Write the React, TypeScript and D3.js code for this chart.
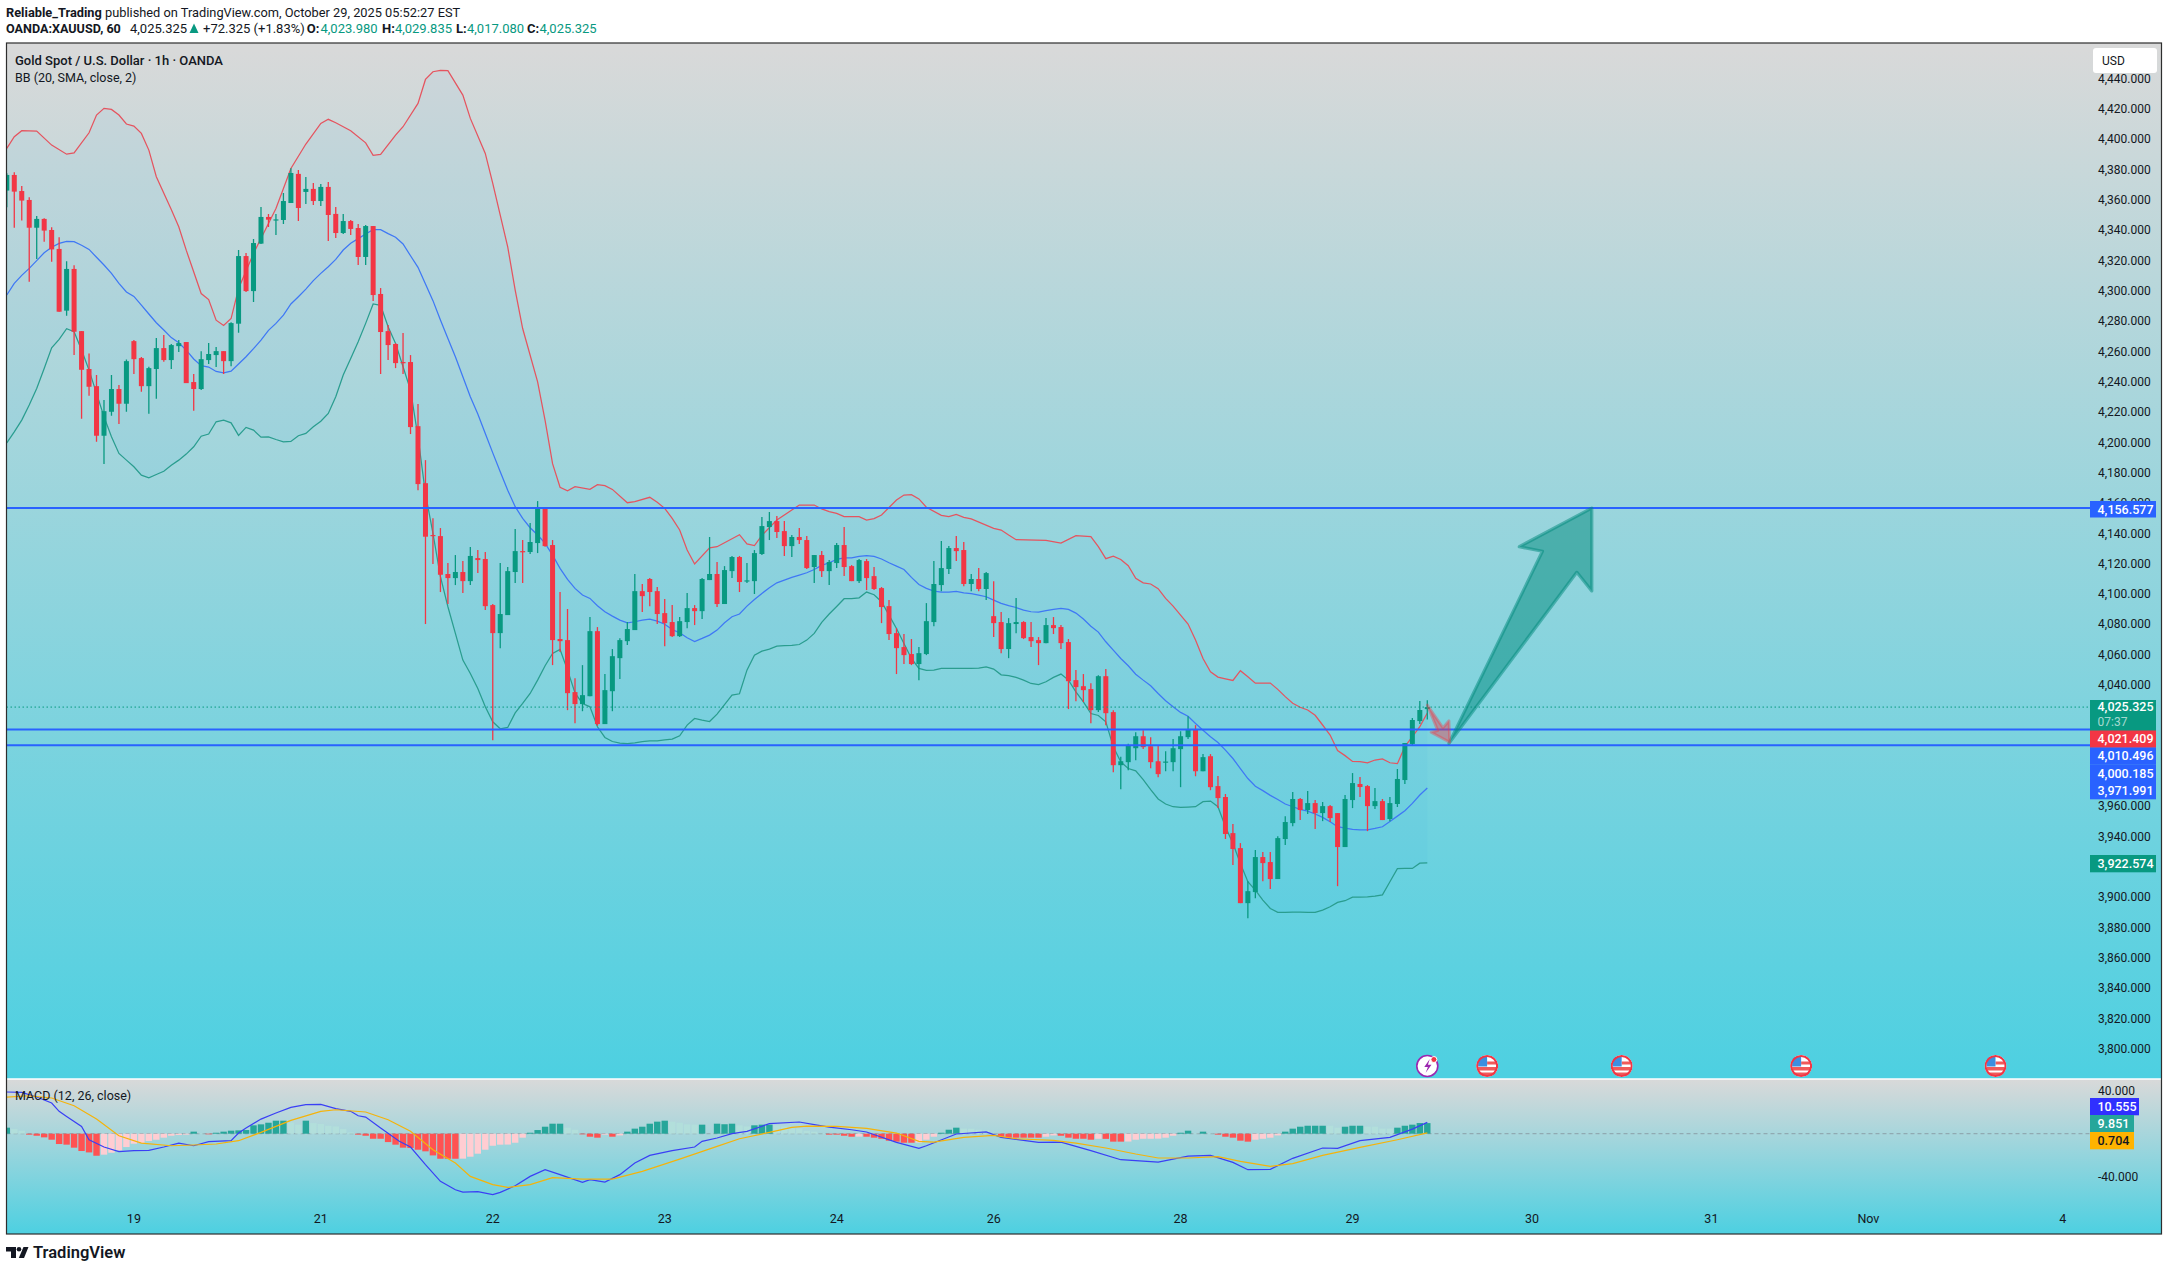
import React from "react";
import * as d3 from "d3";

const opens = [4366.0,4376.3,4365.7,4359.8,4341.5,4347.3,4340.0,4327.5,4286.8,4314.3,
4273.3,4248.3,4237.0,4204.3,4220.1,4235.1,4225.4,4266.7,4255.5,4237.0,
4248.3,4262.1,4254.2,4263.4,4266.1,4239.7,4235.1,4254.2,4257.5,4260.1,
4253.5,4278.2,4322.8,4299.7,4331.0,4348.6,4346.8,4346.6,4357.8,4377.0,
4365.1,4367.1,4359.1,4368.4,4350.6,4338.0,4345.9,4341.3,4322.2,4342.6,
4297.8,4273.3,4264.8,4252.9,4252.9,4210.6,4173.0,4138.8,4138.1,4113.1,
4110.4,4114.4,4108.4,4123.6,4123.0,4092.6,4074.1,4086.0,4114.4,4128.2,
4127.6,4133.5,4156.0,4132.2,4070.2,4069.5,4035.2,4027.3,4032.5,4075.4,
4014.1,4035.8,4057.6,4068.8,4076.1,4101.8,4109.8,4101.8,4087.3,4081.4,
4072.1,4081.4,4090.6,4088.6,4109.1,4113.1,4093.3,4115.0,4124.3,4108.4,
4108.4,4126.3,4144.1,4148.0,4141.4,4131.5,4137.5,4135.5,4117.7,4125.6,
4115.0,4120.3,4132.2,4118.3,4108.4,4121.6,4111.7,4103.8,4091.9,4074.1,
4064.9,4060.3,4053.7,4060.3,4081.4,4105.8,4116.4,4130.2,4128.9,4106.5,
4109.8,4103.2,4085.3,4081.4,4063.6,4080.1,4081.4,4071.5,4069.5,4067.5,
4079.4,4078.1,4068.2,4043.1,4039.1,4037.2,4023.3,4045.7,4022.0,3987.0,
3989.0,3998.2,4006.1,3999.5,3989.6,3989.0,3989.0,3997.6,4005.5,4010.8,
3983.0,3992.9,3973.2,3966.0,3942.2,3932.3,3896.0,3903.3,3926.4,3923.1,
3911.9,3938.3,3948.8,3964.7,3957.4,3962.0,3955.4,3960.0,3955.4,3933.0,
3964.0,3974.6,3973.2,3960.0,3963.3,3951.5,3961.4,3977.2,4001.0,4016.1,4023.98];

const highs = [4377.4,4378.1,4369.0,4361.6,4349.2,4347.7,4341.8,4335.2,4319.3,4316.7,
4273.3,4258.6,4244.3,4227.8,4244.3,4237.7,4254.6,4267.4,4256.2,4249.8,
4268.7,4270.7,4264.8,4267.4,4266.1,4245.0,4260.1,4265.4,4262.8,4260.1,
4279.1,4326.8,4324.8,4334.1,4355.2,4350.6,4350.6,4364.4,4380.7,4379.6,
4375.0,4371.0,4370.4,4371.7,4355.2,4350.6,4346.6,4344.0,4343.3,4342.6,
4301.7,4277.3,4265.4,4272.0,4257.5,4225.2,4188.2,4149.8,4143.4,4120.3,
4125.6,4121.6,4130.9,4128.9,4127.6,4093.3,4120.3,4117.7,4142.8,4135.5,
4146.7,4161.2,4156.6,4135.5,4101.2,4090.0,4044.4,4053.0,4084.7,4078.1,
4047.1,4063.6,4070.8,4081.4,4113.1,4106.5,4110.4,4104.5,4096.6,4092.6,
4084.7,4100.5,4092.6,4110.4,4137.5,4121.0,4118.3,4125.0,4125.0,4120.3,
4128.9,4150.7,4154.0,4151.3,4148.0,4138.8,4143.4,4138.1,4125.6,4128.2,
4122.3,4133.5,4144.1,4119.0,4123.0,4123.0,4117.7,4104.5,4095.9,4077.4,
4073.5,4070.2,4064.9,4093.9,4121.6,4134.8,4131.5,4138.1,4134.2,4113.1,
4117.0,4114.4,4108.4,4088.0,4084.0,4097.2,4082.0,4081.4,4071.5,4084.0,
4084.7,4079.4,4070.2,4049.7,4047.1,4041.1,4046.4,4050.4,4023.3,3992.5,
4001.2,4008.8,4010.1,4005.5,4000.2,3996.2,4004.2,4009.4,4019.3,4013.4,
3994.3,3994.3,3979.8,3968.0,3948.2,3935.6,3910.5,3931.0,3929.7,3929.7,
3940.2,3953.4,3969.3,3965.3,3969.9,3964.0,3962.7,3960.7,3955.4,3967.3,
3981.8,3979.2,3973.9,3971.9,3964.7,3966.0,3984.5,4001.6,4018.1,4029.3,4029.835];

const lows = [4355.0,4341.5,4346.2,4305.9,4320.9,4332.3,4319.1,4286.1,4283.5,4257.5,
4215.5,4230.6,4200.3,4185.6,4217.5,4212.0,4220.1,4245.0,4233.3,4218.8,
4228.7,4253.1,4248.3,4259.5,4239.0,4220.8,4234.4,4251.6,4249.6,4245.0,
4250.2,4272.2,4299.1,4292.5,4330.8,4342.0,4336.7,4344.0,4357.8,4345.9,
4357.2,4356.5,4355.8,4332.7,4334.7,4337.4,4336.7,4316.9,4316.9,4293.1,
4245.0,4254.2,4248.9,4245.0,4205.4,4168.4,4080.1,4119.7,4101.2,4093.3,
4105.8,4100.5,4105.8,4113.7,4089.3,4003.5,4064.2,4086.0,4107.1,4107.1,
4126.3,4126.9,4131.1,4053.0,4061.6,4023.3,4014.7,4022.6,4032.5,4013.0,
4014.1,4022.6,4043.8,4066.2,4076.1,4088.0,4091.9,4080.1,4065.5,4071.5,
4071.5,4077.4,4079.4,4083.4,4109.1,4091.3,4093.3,4110.4,4101.2,4107.1,
4099.9,4125.6,4135.5,4136.8,4125.0,4124.3,4132.9,4116.4,4107.1,4111.1,
4105.8,4117.0,4111.7,4108.4,4107.1,4102.5,4102.5,4080.7,4069.5,4047.1,
4053.7,4053.0,4043.1,4059.6,4078.7,4101.8,4113.1,4121.6,4105.1,4101.8,
4101.8,4095.9,4071.5,4060.9,4057.6,4074.1,4070.2,4064.9,4053.0,4067.5,
4073.5,4063.6,4024.0,4029.2,4028.6,4014.7,4022.0,4013.4,3982.4,3971.2,
3983.7,3990.3,3997.6,3985.0,3979.1,3983.0,3983.0,3972.5,4004.2,3979.7,
3983.0,3970.5,3958.7,3938.3,3921.1,3896.0,3886.1,3899.3,3910.5,3905.3,
3911.9,3934.3,3946.8,3950.8,3954.8,3944.9,3950.1,3949.5,3907.2,3933.0,
3958.7,3966.0,3943.5,3958.1,3950.8,3950.1,3959.4,3974.6,4000.3,4014.2,4017.08];

const closes = [4376.3,4365.3,4359.4,4341.5,4347.3,4339.6,4327.2,4286.1,4314.3,4272.9,
4247.8,4236.6,4204.3,4220.5,4235.1,4225.4,4253.5,4254.8,4237.0,4248.9,
4262.1,4254.2,4264.1,4265.4,4239.0,4235.1,4254.8,4258.2,4260.1,4253.5,
4278.6,4322.8,4299.7,4331.4,4348.6,4346.8,4347.0,4359.1,4377.6,4354.5,
4367.1,4359.1,4368.4,4349.9,4338.0,4345.9,4340.7,4322.2,4342.6,4297.1,
4272.7,4264.1,4252.2,4252.4,4210.0,4172.4,4137.7,4138.4,4112.6,4110.4,
4114.4,4108.4,4125.0,4122.3,4091.9,4074.1,4086.7,4115.0,4128.2,4127.6,
4134.2,4156.0,4131.5,4069.5,4068.8,4034.5,4027.3,4033.2,4075.4,4014.1,
4036.5,4058.9,4069.5,4076.8,4101.8,4098.5,4101.2,4086.7,4080.7,4072.1,
4082.0,4090.6,4088.6,4109.8,4113.1,4093.3,4115.7,4124.3,4107.8,4108.9,
4126.9,4144.7,4148.0,4140.8,4131.5,4137.5,4135.5,4117.0,4125.6,4115.0,
4121.0,4132.2,4117.7,4108.4,4122.3,4110.4,4103.2,4091.3,4073.5,4064.2,
4059.6,4053.7,4060.9,4082.0,4106.5,4117.0,4130.2,4128.2,4106.5,4109.8,
4103.2,4113.7,4080.7,4063.6,4080.7,4081.4,4070.8,4068.8,4067.5,4079.4,
4077.4,4067.5,4042.4,4038.5,4036.5,4023.3,4045.7,4021.3,3987.0,3989.6,
4000.3,4006.1,3998.9,3989.0,3981.1,3989.4,3998.2,4006.1,4010.8,3983.0,
3992.3,3972.5,3965.3,3941.6,3931.7,3896.0,3903.9,3926.4,3922.4,3911.9,
3938.9,3949.5,3964.7,3957.4,3962.0,3955.4,3960.0,3952.1,3933.0,3964.7,
3975.2,3972.6,3960.0,3963.3,3950.8,3962.0,3977.9,4001.6,4016.8,4023.4,4025.325];

const bbUpper: [number, number][] = [[0,4393.8],[1,4401.5],[2,4405.5],[4,4405.2],[6,4396],[8,4390],[9,4390.9],[11,4404.1],[12,4415.8],[13,4420.2],[14,4419.5],[15,4415.8],[16,4409.9],[17,4408.5],[18,4403.7],[19,4392.7],[20,4375.1],[22,4353.5],[23,4342.1],[24,4326.7],[26,4298.1],[27,4294.1],[28,4280.5],[29,4277],[30,4281.6],[31,4301.4],[33,4324.5],[36,4354.2],[38,4380.6],[40,4396.7],[42,4410.3],[43,4413],[44,4410.7],[46,4405.5],[48,4397.5],[49,4389.2],[50,4389.8],[52,4402.6],[53,4408.1],[55,4423.5],[56,4439.3],[57,4444.4],[58,4445.3],[59,4445.1],[61,4429],[62,4413.6],[64,4390.5],[65,4370.7],[67,4328.9],[68,4300.3],[69,4275],[71,4239.8],[72,4214.5],[73,4185.9],[74,4170.3],[75,4168],[76,4170.7],[78,4168.9],[79,4172],[80,4171.4],[81,4168.9],[83,4160.1],[84,4160.8],[86,4163.7],[87,4160.4],[88,4156.4],[89,4149.8],[90,4142.1],[91,4128.9],[92,4119.7],[94,4130.4],[95,4131.1],[98,4139],[99,4132.9],[100,4131.8],[101,4138.6],[103,4148.7],[106,4158.6],[108,4158.6],[109,4156],[110,4154.2],[111,4153.1],[112,4150.9],[114,4150.9],[115,4148.7],[116,4149.6],[117,4152],[119,4161.9],[120,4165.2],[121,4165.4],[122,4162.6],[123,4157.1],[125,4151.8],[126,4150.9],[127,4152.4],[128,4150.5],[129,4149.4],[132,4143.2],[133,4142.1],[134,4138.8],[135,4135.7],[139,4135.3],[141,4133.5],[143,4138.4],[145,4137.7],[146,4131.1],[147,4123.2],[148,4124.9],[149,4122.7],[150,4118.6],[151,4110.2],[152,4107.3],[153,4106.5],[154,4103.4],[155,4097],[156,4091.9],[157,4086],[158,4080.1],[159,4069.5],[160,4057.4],[161,4048.6],[162,4045.1],[163,4044],[164,4042.9],[165,4049.3],[166,4045.3],[167,4041.1],[169,4041.2],[170,4037],[171,4032.2],[172,4027.8],[173,4025.2],[174,4023.4],[175,4019.9],[176,4013.5],[177,4006.9],[178,3996.6],[179,3993.3],[180,3989.5],[181,3989.3],[182,3988.6],[183,3990.4],[184,3991.1],[185,3988.6],[186,3988],[187,3999.2],[188,4005.8],[189,4012.4],[190,4021.409]];

const bbBasis = [4297.1,4304.8,4310.1,4314.7,4319.8,4325,4328.6,4331.2,4332.5,4332.3,4329.9,4327.2,4322,4316.9,4311.4,4304.8,4299.1,4296.2,4290.5,4284.6,
4278.8,4274,4269,4265.6,4260.8,4254.9,4250.5,4249.6,4246.7,4245.8,4246.9,4251.6,4256.4,4261.7,4267.4,4273.8,4278.4,4283.9,4291.2,4296,
4301,4306.6,4311.4,4315.8,4320.6,4326.8,4331.2,4334.3,4337.4,4340.2,4340.2,4337.6,4335.2,4330.8,4323,4315.4,4304.4,4293.4,4280.6,4268.5,
4256.4,4243.2,4230,4218.6,4205.8,4193,4180.5,4168.4,4157.5,4149.8,4143.6,4138.8,4133.3,4125.6,4116.8,4109.5,4103.6,4099.2,4097,4092.2,
4088.2,4085.3,4082.7,4080.9,4081.6,4082.7,4083.4,4082,4080,4076.5,4074.3,4071,4068.6,4070.6,4072.8,4076.1,4080.9,4084.9,4086.7,4091.9,
4096.3,4100.3,4104,4107.3,4109.1,4110.9,4112.4,4113.9,4116.1,4118.8,4120.5,4122.7,4123.8,4123.8,4124.7,4125.2,4124.7,4123,4120.5,4118.3,
4116.1,4110.9,4106.2,4103.6,4101.8,4101.2,4101.2,4101.6,4100.7,4100.1,4099.2,4098.1,4095.9,4093.7,4092.2,4091,4089.3,4088.2,4088,4088.9,
4089.7,4090.4,4089.7,4087.3,4083.4,4078.7,4074.8,4068.4,4062.9,4057.4,4052.6,4047,4043.1,4039.4,4034.3,4029.5,4025.5,4021.8,4019.3,4014.5,
4010.1,4005.7,4002,3996.9,3991.4,3984.8,3978.2,3973.1,3970.2,3967.1,3964.4,3961.4,3959.6,3957.8,3956.7,3954.8,3952.6,3949.7,3946.4,3945.5,
3944.6,3944.4,3944.4,3945.3,3946.4,3949.9,3953.4,3957,3961.8,3967.3,3971.991];

const bbLower = [4199.6,4206.9,4214.6,4224.5,4235.5,4248.7,4262.3,4267.8,4274.9,4272.9,4260.8,4247.6,4232.2,4216.8,4203.6,4192.6,4188.2,4183.8,4178.3,4176.5,
4178.7,4180.9,4184.9,4188.2,4192.2,4197,4204,4205.4,4213.5,4214.6,4212.8,4204.5,4209.8,4208,4203.4,4203.6,4201.8,4200.3,4200.5,4204.3,
4205.8,4210.2,4213.9,4219,4230,4244.3,4255.3,4266.3,4278.4,4291.2,4290.3,4276.2,4265.2,4249.8,4234.4,4203.6,4166,4139.9,4111.3,4091.5,
4073.9,4056.3,4047.5,4037.6,4025.5,4015.6,4011,4011.9,4021.5,4027.7,4034.3,4043.1,4052.6,4060.7,4063.3,4049.7,4034.7,4027.7,4025.5,4012.3,
4005.3,4002.6,4001.5,4001.3,4001.7,4002.6,4003.1,4003.1,4003.7,4004.2,4006.4,4013.4,4017.8,4016.7,4015.8,4020.7,4027,4033.2,4034.1,4049.7,
4059.6,4062.2,4063.6,4065.5,4065.8,4066,4066.6,4069.5,4073.9,4081.2,4086.7,4091.7,4096.8,4096.8,4097.4,4101.2,4099.4,4094.8,4086,4077.2,
4067.3,4057.4,4050.8,4049.5,4049.7,4050.8,4050.8,4050.8,4050.8,4050.8,4051,4051.9,4050.4,4046.6,4046,4044.9,4043.1,4040.9,4040.2,4042,
4044.9,4047.1,4043.1,4035.4,4028.8,4021.1,4019.8,4015.6,3999.1,3989.2,3984.8,3983.3,3977.5,3970.9,3964.7,3961.4,3959.6,3959.2,3959.4,3959.6,
3962.9,3963.3,3959.6,3946.4,3935.4,3922.2,3910.1,3904.6,3898,3892.5,3889.9,3889.9,3890.1,3890.1,3889.9,3889.9,3891.4,3893.6,3896.5,3897.6,
3900,3900,3900.2,3900.6,3901.5,3910.1,3918.7,3918.9,3918.9,3922.4,3922.574];

const histValues = [5.6,4.3,2.8,-0.9,-1.9,-3.4,-5.6,-9.6,-10.2,-13,-16.1,-17.4,-20.5,-19.5,-17.7,-15.5,-12.4,-9.3,-8.7,-6.8,
-5.6,-3.7,-1.9,-1.2,-0.9,1.9,0.3,-0.6,0.9,1.9,2.8,3.1,3.4,7.8,8.7,10.2,12.1,12.1,10.5,8.4,
12.1,9.9,9,7.4,6.8,4.3,1.2,-0.9,-1.9,-4.7,-4.7,-7.8,-10.2,-13,-13.3,-14.9,-16.4,-20.2,-23.3,-23.3,
-23.3,-23.2,-21.4,-18.6,-14.9,-11.2,-10.2,-10.1,-8.4,-3.7,0.9,3.4,6.5,9.3,9.3,5.6,3.7,-0.6,-2.8,-3.7,
-0.9,-2.8,-1.6,1.9,4.7,6.5,9.3,11.2,12.1,11.2,10.2,8.7,8.4,8.4,0.2,9.3,8.8,9.3,7.8,6.8,
7.8,8.4,8.4,7.8,6.8,5,5,2.8,1.9,0.3,-0.9,-0.9,-1.9,-2.8,-2.7,-2.8,-3.7,-4.7,-6.5,-7.4,
-8.4,-8.4,-8.3,-5.6,-2.8,0.9,3.7,5.6,4.7,4.6,3.7,3.1,0.3,-2.8,-3.7,-3.7,-3.7,-3.7,-3.7,-2.8,
-1.6,-1.9,-3.7,-4.7,-4.7,-5.6,-4.7,-4.8,-7.4,-7.4,-7.3,-5.6,-4.7,-4.7,-4.6,-3.7,-1.9,0.9,2.8,0.3,
1.9,0.3,-0.9,-2.8,-3.7,-6.5,-7.4,-5.6,-4.7,-3.7,-1.6,1.9,4.7,6.5,7.4,7.4,7.4,7.4,5.6,6.5,
7.4,7.4,6.5,6.5,4.7,4.7,5.6,7.4,8.4,9.9,9.851];

// G rising above zero, g falling above zero, R falling below zero, r rising below zero
const histKinds = "GggRRRRRRRRRRrrrrrrrrrrrrGgRGGGGGGGGGGggGggggggRRRRRRRRRRRRRRrrrrrrrrrGGGGGggRRRrRrGGGGGGggggGgGGGggGGGgggggggRRRRrRRRRRRRrrrGGGgggggRRRRRRrrRRRRRrRRRrrrrrrrGGgGgRRRRRrrrrGGGGGGggGGGggggGGGGG";

const macdLine: [number, number][] = [[0,38.8],[2,38.4],[4,34.1],[6,28.5],[7,20.8],[8,16.1],[10,6.8],[11,-5.6],[13,-12.4],[15,-16.7],[17,-15.8],[19,-15.5],[21,-12.4],[23,-8.7],[25,-11.2],[27,-7.4],[30,-6.5],[31,0.6],[32,5.3],[34,13.6],[36,19.2],[38,24.5],[40,27],[42,27.3],[44,23.3],[46,20.8],[47,16.7],[48,15.5],[50,5.3],[52.5,-7.1],[54,-12.4],[56,-28.8],[58,-44.3],[60,-52.1],[61,-54.3],[63,-53.9],[65,-56.7],[66,-54.6],[68,-48.4],[70,-39.7],[72,-33.5],[74,-38.1],[77,-45.3],[78,-42.8],[80,-45],[82,-38.1],[84,-27.3],[86,-20.2],[89,-15.8],[92,-12.4],[93,-7.1],[95,-4],[97,0],[99,2.2],[102,9.3],[106,10.9],[108,8.4],[110,6.2],[113,3.7],[115,1.6],[119,-8.1],[122,-13.6],[123,-11.2],[127,-0.3],[131,1.6],[133,-3.4],[138,-8.1],[141,-7.8],[145,-15.8],[149,-24.2],[154,-26.4],[158,-20.8],[161,-20.2],[164,-26.7],[166,-33.5],[169,-33.2],[172,-22.9],[176,-13.3],[178,-13.6],[181,-6.5],[185,-3.4],[188,4.3],[190,10.555]];

const signalLine: [number, number][] = [[0,34.1],[3,35.3],[6,33.2],[9,26],[12,13.6],[15,-1.9],[18,-8.7],[22,-11.2],[25,-10.5],[28,-9.6],[31,-6.5],[34,1.2],[38,12.4],[42,20.8],[44,22.3],[48,20.2],[51,13],[54,2.2],[57,-14.9],[60,-27.3],[62,-39.7],[65,-47.4],[67,-49.9],[70,-47.4],[73,-40.9],[77,-42.2],[81,-42.2],[85,-35],[90,-23.6],[95,-11.8],[98,-4.7],[102,1.2],[105,5.9],[107,7.1],[111,6.8],[115,5],[119,0.6],[122,-7.1],[124,-7.8],[128,-3.4],[132,-1.6],[135,-4.7],[140,-6.2],[143,-8.7],[147,-13.3],[151,-18.9],[154,-22.6],[158,-22.6],[162,-21.4],[165,-25.7],[169,-30.4],[172,-27.9],[176,-20.2],[181,-12.7],[186,-5.6],[190,0.704]];

const hiddenTicks = [4020, 4000, 3980, 3920];
const priceTicks = d3.range(3800, 4441, 20).filter(p => !hiddenTicks.includes(p));
const macdTicks = [40, -40];
const dateBars: [string, number][] = [["19",17],["21",42],["22",65],["23",88],["24",111],["26",132],["28",157],["29",180],["30",204],["31",228],["Nov",249],["4",275]];
const hLevels = [4156.577, 4010.496, 4000.185];
const lastPrice = 4025.325;
const flagBars = [198, 216, 240, 266];
const boltBar = 190;
const upArrow: [number, number][] = [[192.9,4001.4],[205.4,4128.1],[202.3,4131.1],[212,4156.577],[212,4101.9],[210,4114.2]];
const downArrow: [number, number][] = [[190,4026.7],[192.1,4011.7],[192.9,4016.3],[193,4002.1],[190.5,4008.7],[191.4,4009.8]];

const W = 2168, H = 1271;
const L = 6.5, R = 2161.5, T = 43, PB = 1079, B = 1234, AX = 2090;
const UP = "#089981", DOWN = "#f23645", BLUE = "#2962ff", INK = "#131722";
const FONT = "Roboto, 'Noto Sans', sans-serif";

const x = d3.scaleLinear().domain([0, 190]).range([6.8, 1427.3]);
const y = d3.scaleLinear().domain([3800, 4420]).range([1048.7, 108.7]);
const ym = d3.scaleLinear().domain([-40, 40]).range([1176.7, 1090.7]);
const fmt = d3.format(",.3f");

const line = d3.line<[number, number]>().x(d => x(d[0])).y(d => y(d[1]));
const mline = d3.line<[number, number]>().x(d => x(d[0])).y(d => ym(d[1]));
const withIndex = (a: number[]) => a.map((v, i) => [i, v] as [number, number]);

const histColor: Record<string, string> = { G: "#26a69a", g: "#b2dfdb", R: "#ff5252", r: "#ffcdd2" };

function PriceTag({ top, h = 17.3, fill, color = "#fff", text, right = 2156, weight = 500 }: any) {
  return (
    <g>
      <rect x={AX} y={top} width={right - AX} height={h} fill={fill} />
      <text x={AX + 7.5} y={top + 12.8} fontSize={12.5} fontWeight={weight} fill={color}>{text}</text>
    </g>
  );
}

function Flag({ bar }: { bar: number }) {
  const cx = x(bar), cy = 1066;
  return (
    <g clipPath={`url(#fc${bar})`}>
      <clipPath id={`fc${bar}`}><circle cx={cx} cy={cy} r={11} /></clipPath>
      <circle cx={cx} cy={cy} r={11} fill="#fff" />
      <rect x={cx - 9} y={cy + 1} width={18} height={3.5} fill="#f05a5a" />
      <rect x={cx - 9} y={cy + 6.5} width={18} height={3} fill="#f05a5a" />
      <rect x={cx} y={cy - 4.5} width={9} height={3} fill="#f05a5a" />
      <rect x={cx - 9} y={cy - 9} width={9} height={9.5} fill="#3b8fe0" />
      <circle cx={cx} cy={cy} r={10} fill="none" stroke="#f23645" strokeWidth={2} />
    </g>
  );
}

export default function App() {
  const bandPoly = [...bbUpper, ...withIndex(bbLower).reverse()];
  return (
    <svg width={W} height={H} style={{ position: "absolute", left: 0, top: 0, display: "block", background: "#fff" }} fontFamily={FONT}>
      <defs>
        <linearGradient id="bgMain" gradientUnits="userSpaceOnUse" x1="0" y1={T} x2="0" y2={PB}>
          <stop offset="0" stopColor="#d9d9d9" /><stop offset="1" stopColor="#4dd0e1" />
        </linearGradient>
        <linearGradient id="bgMacd" gradientUnits="userSpaceOnUse" x1="0" y1={PB} x2="0" y2={B}>
          <stop offset="0" stopColor="#d9d9d9" /><stop offset="1" stopColor="#4dd0e1" />
        </linearGradient>
        <clipPath id="chartClip"><rect x={L} y={T} width={AX - L} height={PB - T} /></clipPath>
        <clipPath id="macdClip"><rect x={L} y={PB} width={AX - L} height={B - PB} /></clipPath>
      </defs>

      <text x={6} y={17} fontSize={12.8} fill={INK}>
        <tspan fontWeight={700}>Reliable_Trading</tspan> published on TradingView.com, October 29, 2025 05:52:27 EST
      </text>
      <g fontSize={13} fill={INK}>
        <text x={6} y={33} fontWeight={700} fontSize={12.6}>OANDA:XAUUSD, 60</text>
        <text x={130} y={33}>4,025.325</text>
        <path d="M189.5,33 L194,23.5 L198.5,33 Z" fill={UP} />
        <text x={203} y={33}>+72.325 (+1.83%)</text>
        <text x={306.7} y={33} fontWeight={700}>O:</text>
        <text x={320.5} y={33} fill={UP}>4,023.980</text>
        <text x={382} y={33} fontWeight={700}>H:</text>
        <text x={394.9} y={33} fill={UP}>4,029.835</text>
        <text x={456} y={33} fontWeight={700}>L:</text>
        <text x={467} y={33} fill={UP}>4,017.080</text>
        <text x={527} y={33} fontWeight={700}>C:</text>
        <text x={539.5} y={33} fill={UP}>4,025.325</text>
      </g>

      <rect x={L} y={T} width={R - L} height={PB - T} fill="url(#bgMain)" />
      <rect x={L} y={PB} width={R - L} height={B - PB} fill="url(#bgMacd)" />

      <g fontSize={12} fill={INK}>
        {priceTicks.map(p => (
          <text key={p} x={2098} y={y(p) + 4.3}>{fmt(p)}</text>
        ))}
      </g>

      <g clipPath="url(#chartClip)">
        <path d={line(bandPoly) as string} fill="rgba(33,150,243,0.05)" />
        <path d={line(bbUpper) as string} fill="none" stroke="#e5545f" strokeWidth={1.25} />
        <path d={line(withIndex(bbBasis)) as string} fill="none" stroke="#3f78f5" strokeWidth={1.25} />
        <path d={line(withIndex(bbLower)) as string} fill="none" stroke="#2a9d8f" strokeWidth={1.25} />

        {opens.map((o, i) => {
          const c = closes[i], col = c >= o ? UP : DOWN;
          const t = y(Math.max(o, c)), b = y(Math.min(o, c));
          return (
            <g key={i}>
              <line x1={x(i)} x2={x(i)} y1={y(highs[i])} y2={y(lows[i])} stroke={col} strokeWidth={1.3} />
              <rect x={x(i) - 2.5} y={t} width={5} height={Math.max(b - t, 1.2)} fill={col} />
            </g>
          );
        })}

        <line x1={L} x2={AX} y1={y(lastPrice)} y2={y(lastPrice)} stroke={UP} strokeWidth={1} strokeDasharray="1.5 2.5" />
        {hLevels.map(l => (
          <line key={l} x1={L} x2={AX} y1={y(l)} y2={y(l)} stroke={BLUE} strokeWidth={2} />
        ))}
        <path d={line(upArrow) + "Z"} fill="rgba(0,137,123,0.5)" stroke="rgba(0,137,123,0.5)" strokeWidth={3.2} strokeLinejoin="round" />
        <path d={line(downArrow) + "Z"} fill="rgba(242,54,69,0.42)" stroke="rgba(242,54,69,0.38)" strokeWidth={2.8} strokeLinejoin="round" />
      </g>

      <g>
        <circle cx={x(boltBar)} cy={1066} r={10.5} fill="#fff" stroke="#9c27b0" strokeWidth={1.6} />
        <path d={`M${x(boltBar) + 2.5},${1059} l-5.5,8 h3.6 l-2.2,5.8 l5.8,-8 h-3.6 z`} fill="#9c27b0" />
        <circle cx={x(boltBar) + 6.6} cy={1059.5} r={3} fill="#f23645" stroke="#fff" strokeWidth={1} />
        {flagBars.map(b => <Flag key={b} bar={b} />)}
      </g>

      <text x={15} y={65} fontSize={13} fontWeight={500} fill={INK}>Gold Spot / U.S. Dollar · 1h · OANDA</text>
      <text x={15} y={82} fontSize={12.5} fill={INK}>BB (20, SMA, close, 2)</text>

      <rect x={2093} y={48} width={64} height={25} rx={3} fill="#fff" />
      <text x={2102} y={65} fontSize={12} fill={INK}>USD</text>

      <PriceTag top={501} h={16.5} fill={BLUE} text={fmt(4156.577)} />
      <rect x={AX} y={700} width={66} height={31} fill={UP} />
      <text x={AX + 7.5} y={711.2} fontSize={12.5} fontWeight={500} fill="#fff">{fmt(lastPrice)}</text>
      <text x={AX + 7.5} y={726} fontSize={12} fill="#fff" fillOpacity={0.65}>07:37</text>
      <PriceTag top={730.5} fill={DOWN} text={fmt(4021.409)} />
      <PriceTag top={747.5} fill={BLUE} text={fmt(4010.496)} />
      <PriceTag top={764.8} fill={BLUE} text={fmt(4000.185)} />
      <PriceTag top={782} fill={BLUE} text={fmt(3971.991)} />
      <PriceTag top={855} fill={UP} text={fmt(3922.574)} />

      {/* MACD pane */}
      <line x1={L} x2={R} y1={PB} y2={PB} stroke="#fff" strokeWidth={1.5} />
      <g clipPath="url(#macdClip)">
        <line x1={L} x2={AX} y1={ym(0)} y2={ym(0)} stroke="#787b86" strokeOpacity={0.6} strokeDasharray="4 3" />
        {histValues.map((v, i) => {
          const y0 = ym(0), yv = ym(v);
          return <rect key={i} x={x(i) - 3.2} y={Math.min(y0, yv)} width={6.4} height={Math.abs(yv - y0)} fill={histColor[histKinds[i]]} />;
        })}
        <path d={mline(macdLine) as string} fill="none" stroke="#3a3ff5" strokeWidth={1.2} />
        <path d={mline(signalLine) as string} fill="none" stroke="#f5b30a" strokeWidth={1.2} />
      </g>
      <text x={15} y={1100} fontSize={12.5} fill={INK}>MACD (12, 26, close)</text>
      <g fontSize={12} fill={INK}>
        {macdTicks.map(t => <text key={t} x={2098} y={ym(t) + 4.3}>{d3.format(".3f")(t).replace("−", "-")}</text>)}
      </g>
      <PriceTag top={1098} fill="#3030ff" right={2139} text="10.555" />
      <PriceTag top={1115} fill="#26a69a" right={2134} text="9.851" />
      <PriceTag top={1132} fill="#ffb300" right={2134} color={INK} text="0.704" />

      <g fontSize={12.5} fill={INK} textAnchor="middle">
        {dateBars.map(([s, b]) => <text key={s} x={x(b)} y={1223}>{s}</text>)}
      </g>

      <rect x={L} y={T} width={R - L} height={B - T} fill="none" stroke="#2e2e2e" strokeWidth={1.2} />

      <g fill={INK}>
        <path d="M6,1247 H16 V1258 H11 V1251.5 H6 Z" />
        <circle cx={19} cy={1249.3} r={2.3} />
        <path d="M23.5,1247 H28.5 L24,1258 H18.8 Z" />
        <text x={33} y={1257.7} fontSize={16.5} fontWeight={600}>TradingView</text>
      </g>
    </svg>
  );
}
